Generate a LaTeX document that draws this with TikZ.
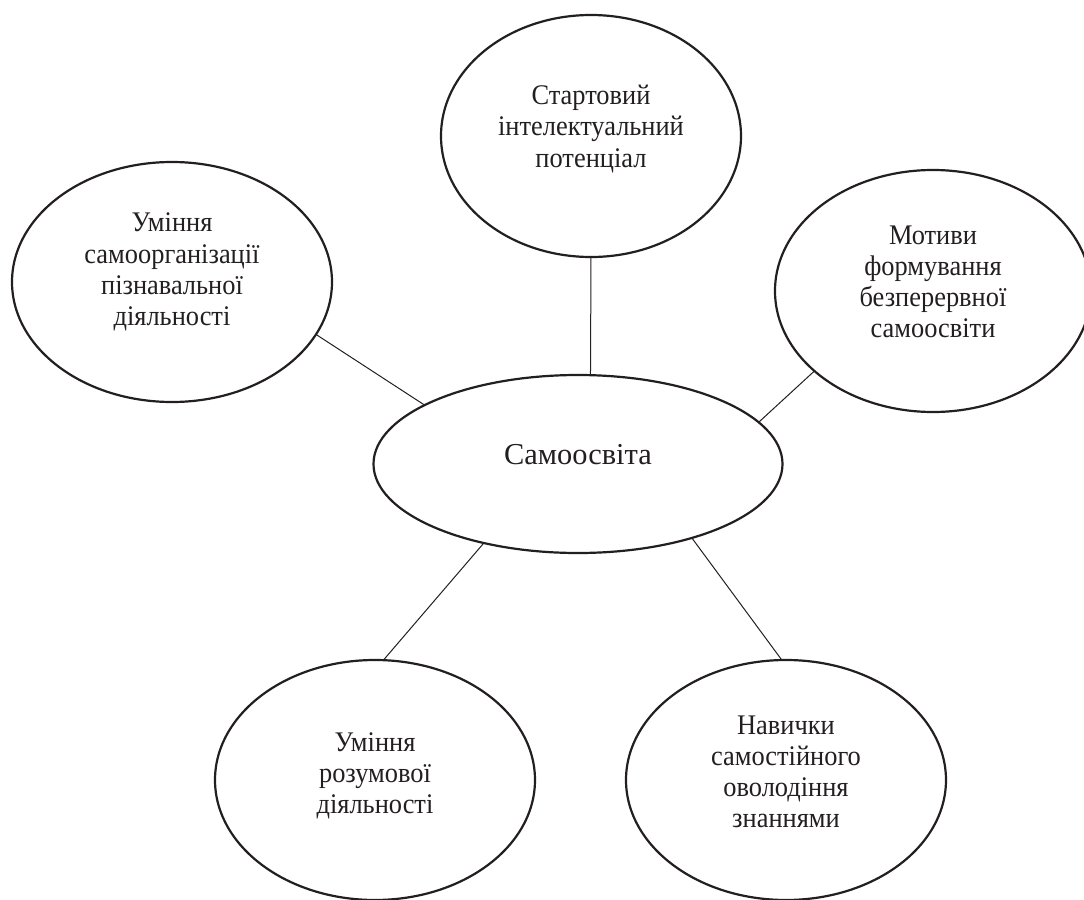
\documentclass[tikz,border=0pt]{standalone}
\usepackage{fontspec}
\setmainfont{Liberation Serif}
\newfontfamily\narrowserif[FakeStretch=0.93]{Liberation Serif}
\usetikzlibrary{shapes.geometric}
\definecolor{ink}{HTML}{231F20}
\begin{document}
\begin{tikzpicture}[x=0.5pt,y=-0.5pt,
  bubble/.style={ellipse,draw=ink,line width=1.1pt,inner sep=0pt,outer sep=0pt},
  lbl/.style={align=center,text=ink,inner sep=0pt,font=\narrowserif\fontsize{14.2}{15.6}\selectfont},
  link/.style={draw=ink,line width=0.5pt}]
\useasboundingbox (0,0) rectangle (1084,900);
\node[bubble,minimum width=150pt,minimum height=121pt] (top) at (591,136) {};
\node[bubble,minimum width=160pt,minimum height=120pt] (left) at (172,282) {};
\node[bubble,minimum width=158pt,minimum height=121pt] (right) at (933,291) {};
\node[bubble,minimum width=204.5pt,minimum height=89pt] (mid) at (578,464) {};
\node[bubble,minimum width=160pt,minimum height=120pt] (bl) at (375,780) {};
\node[bubble,minimum width=160pt,minimum height=120pt] (br) at (786,780) {};
\node[lbl] (ttop) at ([yshift=3.5pt]top.center) {Стартовий\\інтелектуальний\\потенціал};
\node[lbl] (tleft) at ([yshift=5pt]left.center) {Уміння\\самоорганізації\\пізнавальної\\діяльності};
\node[lbl] (tright) at ([yshift=4.5pt]right.center) {Мотиви\\формування\\безперервної\\самоосвіти};
\node[lbl,font=\fontsize{15.2}{17}\selectfont] (tmid) at ([yshift=4.5pt]mid.center) {Самоосвіта};
\node[lbl] (tbl) at ([yshift=2pt]bl.center) {Уміння\\розумової\\діяльності};
\node[lbl] (tbr) at ([yshift=4pt]br.center) {Навички\\самостійного\\оволодіння\\знаннями};
\draw[link] (top.-90) -- (mid.82);
\draw[link] (left.-20.7) -- (mid.159.2);
\draw[link] (right.214) -- (mid.13.9);
\draw[link] (mid.-140.3) -- (bl.86.3);
\draw[link] (mid.-33.9) -- (br.92.7);
\end{tikzpicture}
\end{document}
